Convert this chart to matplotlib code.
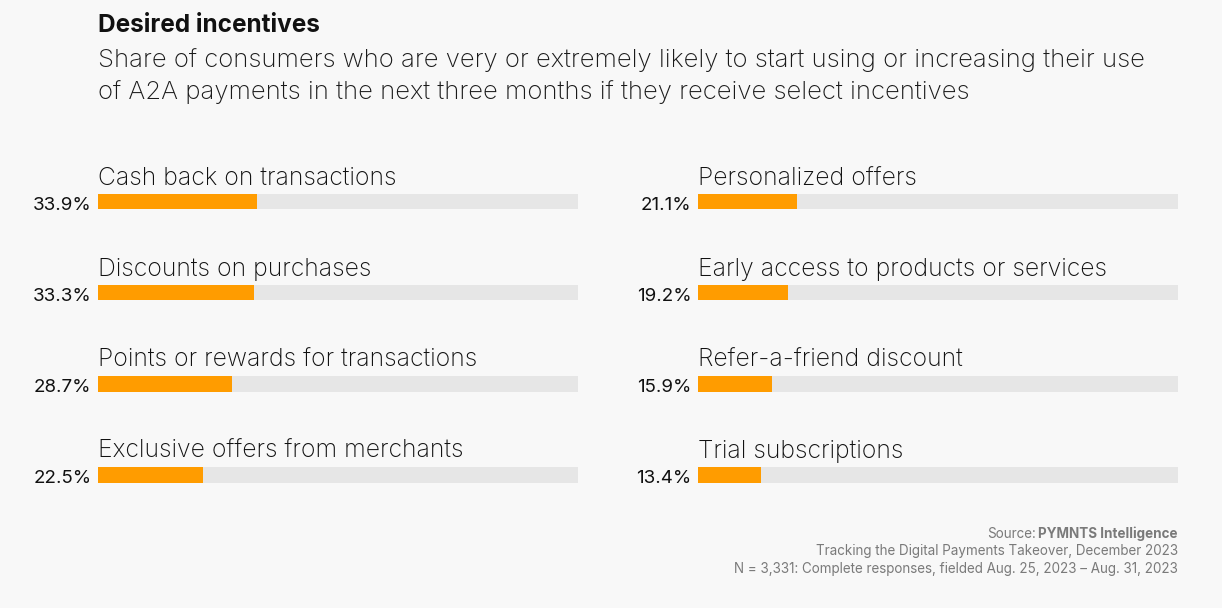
import matplotlib.pyplot as plt

# Data
left_labels = ["Cash back on transactions", "Discounts on purchases",
               "Points or rewards for transactions", "Exclusive offers from merchants"]
left_values = [33.9, 33.3, 28.7, 22.5]
right_labels = ["Personalized offers", "Early access to products or services",
                "Refer-a-friend discount", "Trial subscriptions"]
right_values = [21.1, 19.2, 15.9, 13.4]

BG = "#f8f8f8"
ORANGE = "#ff9c00"
TRACK = "#e6e6e6"
GREY = "#7a7a7a"
FONT = "Inter"
FULL = 102.5  # track length in % units

W, H = 1222, 608
fig = plt.figure(figsize=(W / 100, H / 100), dpi=100, facecolor=BG)

# Title / subtitle
fig.text(98 / W, 1 - 26 / H, "Desired incentives", fontsize=17.5, fontweight="bold",
         family=FONT, va="center", ha="left", color="#111111")
fig.text(98 / W, 1 - 76 / H,
         "Share of consumers who are very or extremely likely to start using or increasing their use\n"
         "of A2A payments in the next three months if they receive select incentives",
         fontsize=18.5, fontweight="light", family=FONT, va="center", ha="left",
         color="#1a1a1a", linespacing=1.42)


def draw_column(x0, labels, values):
    ax = fig.add_axes([x0 / W, 0.1439, 480 / W, 0.6137])
    ax.set_xlim(0, FULL)
    ax.set_ylim(3.5, -0.6)
    ax.axis("off")
    ys = list(range(len(values)))
    ax.barh(ys, [FULL] * len(values), height=0.165, color=TRACK, left=0)
    ax.barh(ys, values, height=0.165, color=ORANGE, left=0)
    for y, lab, v in zip(ys, labels, values):
        ax.text(0, y - 0.19, lab, fontsize=17.8, fontweight="light", family=FONT,
                ha="left", va="baseline", color="#111111")
        ax.text(-1.4, y + 0.04, f"{v:.1f}%", fontsize=13.5, family=FONT,
                ha="right", va="center", color="#111111")
    return ax


draw_column(98, left_labels, left_values)
draw_column(698, right_labels, right_values)

# Footer
fx = 1178 / W
bold = fig.text(fx, 1 - 534 / H, "PYMNTS Intelligence", fontsize=9.7, family=FONT,
                fontweight="bold", ha="right", va="center", color=GREY)
renderer = fig.canvas.get_renderer()
bb = bold.get_window_extent(renderer)
fig.text(bb.x0 / W - 3 / W, 1 - 534 / H, "Source:", fontsize=9.7, family=FONT,
         ha="right", va="center", color=GREY)
fig.text(fx, 1 - 551 / H, "Tracking the Digital Payments Takeover, December 2023", fontsize=9.7,
         family=FONT, ha="right", va="center", color=GREY)
fig.text(fx, 1 - 569 / H, "N = 3,331: Complete responses, fielded Aug. 25, 2023 \u2013 Aug. 31, 2023",
         fontsize=9.7, family=FONT, ha="right", va="center", color=GREY)

fig.savefig("out.png", dpi=100, facecolor=BG)
